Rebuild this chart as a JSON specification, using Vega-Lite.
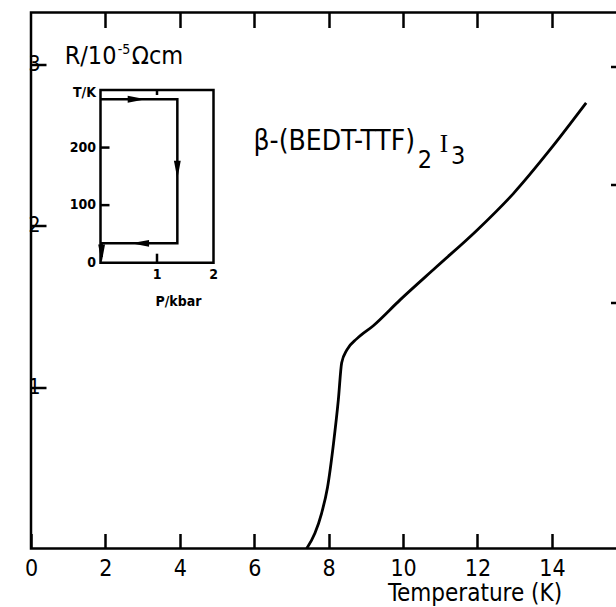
{
  "$schema": "https://vega.github.io/schema/vega-lite/v6.json",
  "width": 587.5,
  "height": 536,
  "autosize": {"type": "none"},
  "padding": {"left": 31, "top": 12.5, "right": 0, "bottom": 58.5},
  "background": "white",
  "config": {
    "font": "Liberation Sans Narrow, DejaVu Sans Condensed, sans-serif",
    "view": {"stroke": "black", "strokeWidth": 2.5},
    "axis": {"domain": false, "grid": false, "ticks": true, "tickColor": "black", "tickWidth": 2.5, "labelColor": "black", "titleColor": "black", "titleFontWeight": "normal"}
  },
  "resolve": {"scale": {"x": "independent", "y": "independent"}},
  "layer": [
    {
      "encoding": {
        "x": {"field": "T", "type": "quantitative", "scale": {"domain": [0, 15.79], "nice": false, "zero": false},
          "axis": {"orient": "bottom", "values": [0, 2, 4, 6, 8, 10, 12, 14], "tickSize": -15, "labelFontSize": 23, "labelPadding": 6,
            "labelFlush": false, "labelBaseline": "line-top", "labelLineHeight": 58,
            "title": "Temperature (K)", "titleFontSize": 24, "titleX": 443.5, "titleY": 44.5, "titleAlign": "center", "titleBaseline": "middle"}},
        "y": {"field": "R", "type": "quantitative", "scale": {"domain": [0, 3.32], "nice": false, "zero": false},
          "axis": {"orient": "left", "values": [1, 2, 3], "tickSize": -15, "labelFontSize": 21, "labelPadding": 6,
            "labelExpr": "datum.label + '  '", "title": null}}
      },
      "layer": [
        {
          "data": {"values": [
            {"T": 7.41, "R": 0.0}, {"T": 7.63, "R": 0.094}, {"T": 7.81, "R": 0.218}, {"T": 7.97, "R": 0.38},
            {"T": 8.13, "R": 0.65}, {"T": 8.26, "R": 0.92}, {"T": 8.35, "R": 1.15}, {"T": 8.49, "R": 1.23},
            {"T": 8.76, "R": 1.30}, {"T": 9.2, "R": 1.38}, {"T": 9.92, "R": 1.54}, {"T": 10.9, "R": 1.745},
            {"T": 11.98, "R": 1.97}, {"T": 12.97, "R": 2.2}, {"T": 13.95, "R": 2.47}, {"T": 14.92, "R": 2.76}
          ]},
          "mark": {"type": "line", "color": "black", "strokeWidth": 2.8, "interpolate": "monotone"}
        },
        {
          "data": {"values": [
            {"T": 1.6, "R": 3.05, "label": "R/10"},
            {"T": 3.4, "R": 3.05, "label": "Ωcm"},
            {"T": 10.59, "R": 2.409, "label": "2"},
            {"T": 11.48, "R": 2.43, "label": "3"}
          ]},
          "mark": {"type": "text", "fontSize": 25, "align": "center", "baseline": "middle", "color": "black"},
          "encoding": {"text": {"field": "label", "type": "nominal"}}
        },
        {
          "data": {"values": [{"T": 8.15, "R": 2.517, "label": "β-(BEDT-TTF)"}]},
          "mark": {"type": "text", "fontSize": 28, "align": "center", "baseline": "middle", "color": "black"},
          "encoding": {"text": {"field": "label", "type": "nominal"}}
        },
        {
          "data": {"values": [{"T": 11.1, "R": 2.505, "label": "I"}]},
          "mark": {"type": "text", "fontSize": 25, "font": "Liberation Serif, DejaVu Serif, serif", "align": "center", "baseline": "middle", "color": "black"},
          "encoding": {"text": {"field": "label", "type": "nominal"}}
        },
        {
          "data": {"values": [{"T": 2.5, "R": 3.087, "label": "-5"}]},
          "mark": {"type": "text", "fontSize": 14, "align": "center", "baseline": "middle", "color": "black"},
          "encoding": {"text": {"field": "label", "type": "nominal"}}
        }
      ]
    },
    {
      "data": {"values": [{"T": 0, "S": 0}]},
      "mark": {"type": "point", "opacity": 0},
      "encoding": {
        "x": {"field": "T", "type": "quantitative", "scale": {"domain": [0, 15.79], "nice": false, "zero": false},
          "axis": {"orient": "top", "values": [2, 4, 6, 8, 10, 12, 14], "tickSize": -15, "labels": false, "title": null}},
        "y": {"field": "S", "type": "quantitative", "scale": {"domain": [-0.08, 4.46], "nice": false, "zero": false},
          "axis": {"orient": "right", "values": [2, 3, 4], "tickSize": -8, "labels": false, "title": null}}
      }
    },
    {
      "encoding": {
        "x": {"field": "P", "type": "quantitative", "scale": {"domain": [0, 2], "range": [69.5, 182.5], "nice": false, "zero": false}, "axis": null},
        "y": {"field": "Tin", "type": "quantitative", "scale": {"domain": [0, 300], "range": [250.2, 77.5], "nice": false, "zero": false}, "axis": null}
      },
      "layer": [
        {
          "data": {"values": [{"P": 0, "P2": 2, "Tin": 0, "Tin2": 300}]},
          "mark": {"type": "rect", "filled": false, "color": "black", "strokeWidth": 2.5},
          "encoding": {"x2": {"field": "P2"}, "y2": {"field": "Tin2"}}
        },
        {
          "data": {"values": [
            {"i": 0, "P": 0, "Tin": 284}, {"i": 1, "P": 1.36, "Tin": 284}, {"i": 2, "P": 1.36, "Tin": 33.7},
            {"i": 3, "P": 0.02, "Tin": 33.7}, {"i": 4, "P": 0.02, "Tin": 10}
          ]},
          "mark": {"type": "line", "color": "black", "strokeWidth": 2.5},
          "encoding": {"order": {"field": "i", "type": "quantitative"}}
        },
        {
          "data": {"values": [{"P": 0.64, "Tin": 284}]},
          "mark": {"type": "point", "filled": true, "color": "black", "opacity": 1, "size": 324, "shape": "M-1,-0.38L1,0L-1,0.38Z"}
        },
        {
          "data": {"values": [{"P": 1.36, "Tin": 161.6}, {"P": 0.02, "Tin": 16}]},
          "mark": {"type": "point", "filled": true, "color": "black", "opacity": 1, "size": 324, "shape": "M-0.38,-1L0,1L0.38,-1Z"}
        },
        {
          "data": {"values": [{"P": 0.7, "Tin": 33.7}]},
          "mark": {"type": "point", "filled": true, "color": "black", "opacity": 1, "size": 324, "shape": "M1,-0.38L-1,0L1,0.38Z"}
        },
        {
          "data": {"values": [{"P": 0, "Tin": 100}, {"P": 0, "Tin": 200}]},
          "mark": {"type": "point", "filled": false, "color": "black", "opacity": 1, "strokeWidth": 2.5, "size": 100, "shape": "M0,0L1.8,0"}
        },
        {
          "data": {"values": [{"P": 1, "Tin": 0}]},
          "mark": {"type": "point", "filled": false, "color": "black", "opacity": 1, "strokeWidth": 2.5, "size": 100, "shape": "M0,0L0,-1.8"}
        },
        {
          "data": {"values": [{"P": 1, "Tin": 300}]},
          "mark": {"type": "point", "filled": false, "color": "black", "opacity": 1, "strokeWidth": 2.5, "size": 100, "shape": "M0,0L0,1"}
        },
        {
          "data": {"values": [
            {"P": 0, "Tin": 294, "label": "T/K"}, {"P": 0, "Tin": 200, "label": "200"},
            {"P": 0, "Tin": 100, "label": "100"}, {"P": 0, "Tin": 0, "label": "0"}
          ]},
          "mark": {"type": "text", "fontSize": 14, "fontWeight": "bold", "align": "right", "baseline": "middle", "dx": -4.5, "color": "black"},
          "encoding": {"text": {"field": "label", "type": "nominal"}}
        },
        {
          "data": {"values": [{"P": 1, "Tin": 0, "label": "1"}, {"P": 2, "Tin": 0, "label": "2"}]},
          "mark": {"type": "text", "fontSize": 14, "fontWeight": "bold", "align": "center", "baseline": "middle", "dy": 12.3, "color": "black"},
          "encoding": {"text": {"field": "label", "type": "nominal"}}
        },
        {
          "data": {"values": [{"P": 1.38, "Tin": -67.7, "label": "P/kbar"}]},
          "mark": {"type": "text", "fontSize": 14, "fontWeight": "bold", "align": "center", "baseline": "middle", "color": "black"},
          "encoding": {"text": {"field": "label", "type": "nominal"}}
        }
      ]
    }
  ]
}
